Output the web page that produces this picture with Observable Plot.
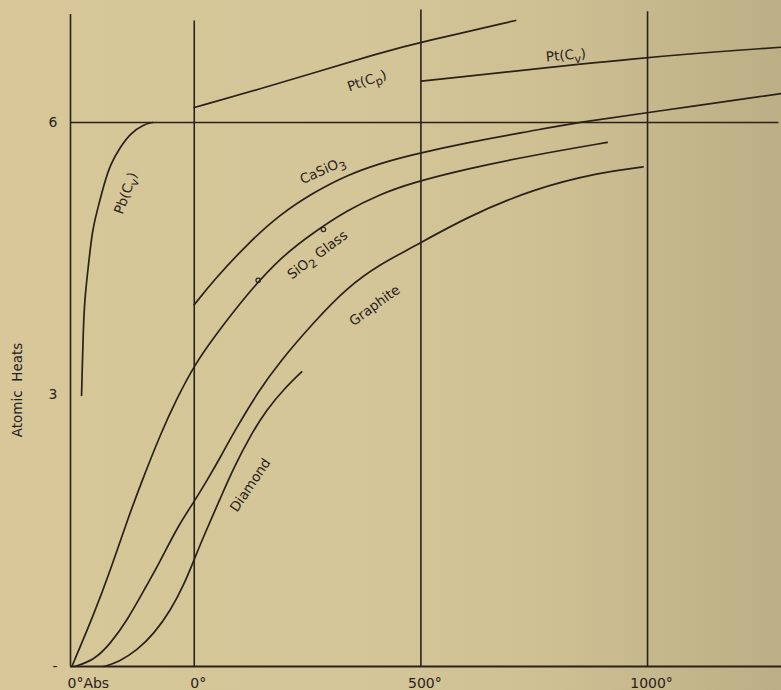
<!DOCTYPE html>
<html><head><meta charset="utf-8">
<script src="https://cdn.jsdelivr.net/npm/d3@7"></script>
<script src="https://cdn.jsdelivr.net/npm/@observablehq/plot@0.6"></script>
<style>
html,body{margin:0;padding:0;}
body{width:781px;height:690px;overflow:hidden;background:linear-gradient(90deg,#d7c799 0%,#d4c698 45%,#cec093 70%,#bcaf85 100%);}
svg{display:block;}
</style></head><body><div id="chart"></div>
<script>
// Temperatures in °C, atomic heats in cal/deg
const pbT = [-248.6, -247, -245, -242, -234, -225, -214, -199, -185, -163, -141, -111, -92];
const pbV = [2.99, 3.30, 3.67, 4.04, 4.40, 4.81, 5.03, 5.32, 5.54, 5.73, 5.88, 5.98, 6.0];

const ptCpT = [0, 147, 430, 501, 709];
const ptCpV = [6.165, 6.37, 6.80, 6.885, 7.125];

const ptCvT = [501, 1000, 1296];
const ptCvV = [6.455, 6.728, 6.83];

const casio3T = [0, 43, 117, 190, 264, 337, 411, 477, 602, 749, 845, 1003, 1296];
const casio3V = [3.99, 4.26, 4.66, 4.99, 5.23, 5.42, 5.55, 5.64, 5.78, 5.91, 6.00, 6.11, 6.32];

const sio2T = [-270, -221, -185, -148, -115, -74, -37, 0, 43, 117, 190, 264, 337, 411, 477, 602, 749, 911];
const sio2V = [0, 0.58, 1.06, 1.61, 2.05, 2.57, 2.97, 3.32, 3.63, 4.11, 4.51, 4.79, 5.03, 5.21, 5.33, 5.49, 5.64, 5.78];

const graphT = [-264, -221, -185, -148, -111, -74, -37, 0, 29, 58, 87, 142, 190, 264, 337, 411, 477, 602, 749, 896, 990];
const graphV = [0, 0.07, 0.25, 0.51, 0.84, 1.17, 1.54, 1.82, 2.06, 2.31, 2.58, 3.04, 3.37, 3.80, 4.18, 4.44, 4.61, 4.96, 5.27, 5.45, 5.51];

const diamT = [-199, -166, -126, -89, -52, -23, 0, 21, 58, 87, 124, 161, 198, 237];
const diamV = [0, 0.05, 0.18, 0.36, 0.62, 0.90, 1.18, 1.44, 1.86, 2.19, 2.55, 2.84, 3.06, 3.25];

const pointT = [141, 285];
const pointV = [4.26, 4.82];

const gridT = [-273, 0, 500, 1000];
const gridTop = [7.19, 7.12, 7.24, 7.22];
const tickLabels = ["0°Abs", "0°", "500°", "1000°"];

// "_x" marks a subscript character
const labelText = ["Pt(C_p)", "Pt(C_v)", "CaSiO_3", "Pb(C_v)", "SiO_2 Glass", "Graphite", "Diamond"];
const labelT = [381, 820, 283, -151, 272, 398, 124];
const labelV = [6.46, 6.74, 5.47, 5.22, 4.54, 3.98, 2.0];
const labelRot = [-19, -5, -24, -70, -37, -36, -56];

const ink = "#2a2119";
const font = "DejaVu Sans, Verdana, sans-serif";
const series = (name, T, V) => T.map((t, i) => ({name, t, v: V[i]}));
const curves = [
  ...series("Pb", pbT, pbV),
  ...series("PtCp", ptCpT, ptCpV),
  ...series("PtCv", ptCvT, ptCvV),
  ...series("CaSiO3", casio3T, casio3V),
  ...series("SiO2", sio2T, sio2V),
  ...series("Graphite", graphT, graphV),
  ...series("Diamond", diamT, diamV)
];
const grid = gridT.map((t, i) => ({t, top: gridTop[i], label: tickLabels[i]}));
const labels = labelText.map((s, i) => ({s, t: labelT[i], v: labelV[i], r: labelRot[i]}));
const points = pointT.map((t, i) => ({t, v: pointV[i]}));

const chart = Plot.plot({
  width: 781, height: 690,
  marginLeft: 70, marginRight: 0, marginTop: 8, marginBottom: 24,
  style: {background: "transparent", fontFamily: font, color: ink},
  x: {domain: [-273, 1295.5], axis: null},
  y: {domain: [0, 7.257], axis: null},
  marks: [
    Plot.ruleX(grid, {x: "t", y1: 0, y2: "top", stroke: ink, strokeWidth: 1.6}),
    Plot.ruleY([6], {x1: -273, x2: 1290, stroke: ink, strokeWidth: 1.4}),
    Plot.ruleY([0], {x1: -273, x2: 1295.5, stroke: ink, strokeWidth: 2}),
    Plot.line(curves, {x: "t", y: "v", z: "name", curve: "basis", stroke: ink, strokeWidth: 1.7}),
    Plot.dot(points, {x: "t", y: "v", r: 2.2, stroke: ink, strokeWidth: 1.2, fill: "none"}),
    Plot.text(labels, {x: "t", y: "v", text: "s", rotate: "r", fill: ink, fontSize: 13.5, style: "letter-spacing:0.5px"}),
    Plot.axisY({ticks: [0, 3, 6], tickSize: 0, tickPadding: 13, fontSize: 14, tickFormat: d => d === 0 ? "-" : String(d), fill: ink}),
    Plot.text(grid.slice(1), {x: "t", y: 0, text: "label", dy: 17, dx: 4, fontSize: 14, fill: ink}),
    Plot.text(grid.slice(0, 1), {x: "t", y: 0, text: "label", dy: 17, dx: -3, textAnchor: "start", fontSize: 14, fill: ink}),
    Plot.text(["Atomic  Heats"], {x: -273, y: 3.05, text: d => d, rotate: -90, dx: -53, fontSize: 13.5, fill: ink})
  ]
});
// turn "_x" markers into real subscripts
d3.select(chart).selectAll("text").each(function () {
  const t = this.textContent;
  if (!t.includes("_")) return;
  const el = d3.select(this);
  el.text(null);
  const parts = t.split(/_(\w)/);
  let shifted = false;
  parts.forEach((p, i) => {
    if (!p) return;
    const sp = el.append("tspan").text(p);
    if (i % 2 === 1) { sp.attr("dy", 4).attr("font-size", "0.85em"); shifted = true; }
    else if (shifted) { sp.attr("dy", -4); shifted = false; }
  });
});
document.getElementById("chart").appendChild(chart);
</script>
</body></html>
